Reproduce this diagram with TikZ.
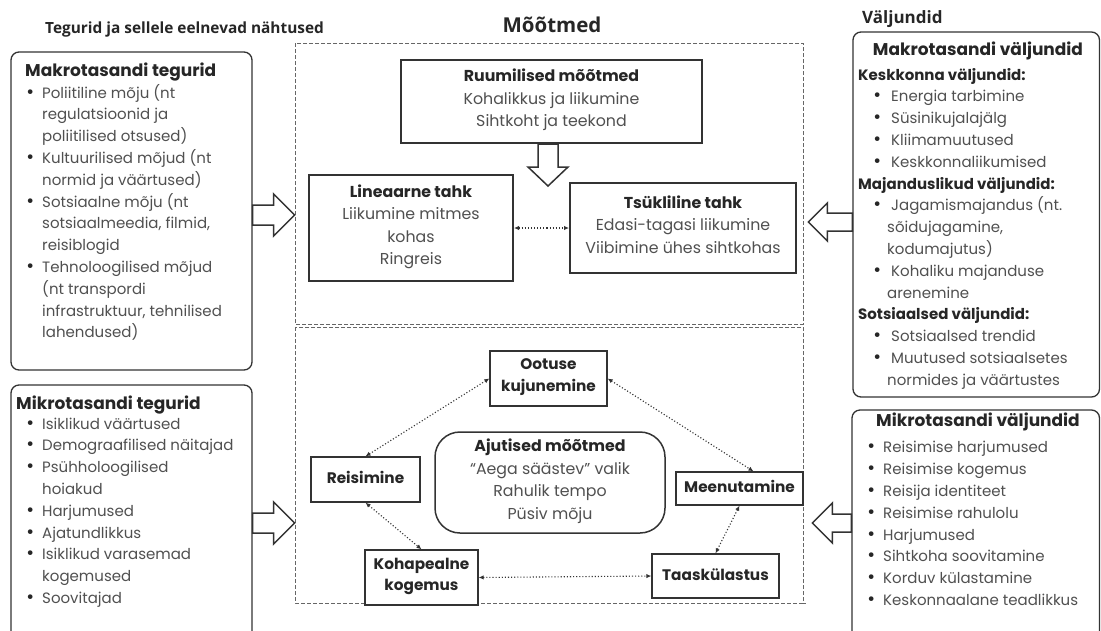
\documentclass[tikz,border=0pt]{standalone}
\usepackage{fontspec}
\setmainfont{Poppins}
\newfontfamily\osans{Open Sans}
\usetikzlibrary{arrows.meta,calc}
\definecolor{bodytxt}{HTML}{505050}
\definecolor{headtxt}{HTML}{262626}
\definecolor{linec}{HTML}{333333}
\definecolor{dashc}{HTML}{666666}
\newcommand\listfont{\fontsize{15}{21.8}\selectfont}
\newcommand\headfont{\fontsize{17}{21.8}\selectfont\bfseries}
\newcommand\ctrfont{\fontsize{15.8}{22.5}\selectfont}
\newcommand\smfont{\fontsize{15.3}{21.5}\selectfont\bfseries}
\newcommand\bul[1][12pt]{\makebox[0pt][c]{\textcolor{headtxt}{\fontsize{19}{0}\selectfont •}}\hspace*{#1}}
\newcommand\ind[1][12pt]{\hspace*{#1}}
\newcommand\subh[1]{\textbf{\textcolor{headtxt}{#1}}}
\begin{document}
\begin{tikzpicture}[x=1pt,y=-1pt,
  sidebox/.style={draw=linec, line width=1.3pt, rounded corners=8pt, fill=white, inner sep=0pt},
  mainbox/.style={draw=linec, line width=2pt, fill=white, align=center, inner sep=0pt,
    font=\ctrfont, text=bodytxt, execute at begin node=\strut, execute at end node=\strut},
  smallbox/.style={draw=linec, line width=1.3pt, fill=white, align=center, inner sep=0pt,
    font=\smfont, text=headtxt, execute at begin node=\strut, execute at end node=\strut},
  roundbox/.style={mainbox, line width=1.5pt, rounded corners=25pt},
  listtxt/.style={anchor=north west, inner sep=0pt, align=left, font=\listfont, text=bodytxt},
  heading/.style={inner sep=0pt, anchor=base, font=\headfont, text=headtxt},
  label/.style={inner sep=0pt, anchor=base, text=headtxt},
  blockarrow/.style={draw=linec, line width=1.5pt, fill=white, line join=miter},
  dotarrow/.style={draw=linec, line width=1.1pt, dotted, {Latex[length=5pt,width=4.5pt]}-{Latex[length=5pt,width=4.5pt]}},
  dashbox/.style={draw=dashc, line width=1pt, dash pattern=on 4pt off 2pt}
]
\clip (0,0) rectangle (1101,630);
\fill[white] (0,0) rectangle (1101,630);

% section labels
\node[label, anchor=base west, font={\fontsize{15.4}{18}\selectfont\osans\bfseries}] (lblleft) at (45,33) {Tegurid ja sellele eelnevad nähtused};
\node[label, font={\fontsize{20.5}{24}\selectfont\osans\bfseries}] (lblmid) at (552,32) {Mõõtmed};
\node[label, anchor=base west, font={\fontsize{17}{20}\selectfont\osans\bfseries}] (lblright) at (862,23.5) {Väljundid};

% dashed frames
\draw[dashbox] (295,43) rectangle (803,324);
\draw[dashbox] (295,327) rectangle (803,603);
\draw[dashbox] (803,603) -- (806,603);

% left boxes
\node[sidebox, minimum width=241pt, minimum height=318pt] (mt) at (131.5,211) {};
\node[heading, anchor=base west] (mthead) at (25,76) {Makrotasandi tegurid};
\node[listtxt] (mtlist) at (30,82.7) {\strut\bul Poliitiline mõju (nt\\
\ind regulatsioonid ja\\
\ind poliitilised otsused)\\
\bul Kultuurilised mõjud (nt\\
\ind normid ja väärtused)\\
\bul Sotsiaalne mõju (nt\\
\ind sotsiaalmeedia, filmid,\\
\ind reisiblogid\\
\bul Tehnoloogilised mõjud\\
\ind (nt transpordi\\
\ind infrastruktuur, tehnilised\\
\ind lahendused)};

\node[sidebox, minimum width=241pt, minimum height=275pt] (mb) at (131.5,522.5) {};
\node[heading, anchor=base west] (mbhead) at (16,409) {Mikrotasandi tegurid};
\node[listtxt] (mblist) at (30,413.7) {\strut\bul Isiklikud väärtused\\
\bul Demograafilised näitajad\\
\bul Psühholoogilised\\
\ind hoiakud\\
\bul Harjumused\\
\bul Ajatundlikkus\\
\bul Isiklikud varasemad\\
\ind kogemused\\
\bul Soovitajad};

% right boxes
\node[sidebox, minimum width=246.5pt, minimum height=365pt] (rt) at (976.25,214.5) {};
\node[heading] (rthead) at (978,55) {Makrotasandi väljundid};
\node[listtxt] (rtlist) at (858,64.7) {\strut\subh{Keskkonna väljundid:}\\
\ind[19pt]\bul[10pt] Energia tarbimine\\
\ind[19pt]\bul[10pt] Süsinikujalajälg\\
\ind[19pt]\bul[10pt] Kliimamuutused\\
\ind[19pt]\bul[10pt] Keskkonnaliikumised\\
\subh{Majanduslikud väljundid:}\\
\ind[19pt]\bul[10pt] Jagamismajandus (nt.\\
\ind[29pt]sõidujagamine,\\
\ind[29pt]kodumajutus)\\
\ind[19pt]\bul[10pt] Kohaliku majanduse\\
\ind[29pt]arenemine\\
\subh{Sotsiaalsed väljundid:}\\
\ind[19pt]\bul[10pt] Sotsiaalsed trendid\\
\ind[19pt]\bul[10pt] Muutused sotsiaalsetes\\
\ind[29pt]normides ja väärtustes};

\node[sidebox, minimum width=247.5pt, minimum height=250pt] (rb) at (975.75,535) {};
\node[heading] (rbhead) at (978,426.5) {Mikrotasandi väljundid};
\node[listtxt] (rblist) at (871,437.5) {\strut\bul Reisimise harjumused\\
\bul Reisimise kogemus\\
\bul Reisija identiteet\\
\bul Reisimise rahulolu\\
\bul Harjumused\\
\bul Sihtkoha soovitamine\\
\bul Korduv külastamine\\
\bul Keskonnaalane teadlikkus};

% spatial dimensions
\node[mainbox, minimum width=301pt, minimum height=83pt] (ruum) at (551.5,101.5)
  {\textbf{\textcolor{headtxt}{Ruumilised mõõtmed}}\\Kohalikkus ja liikumine\\Sihtkoht ja teekond};
\node[mainbox, minimum width=204pt, minimum height=106pt] (lin) at (411,228)
  {\textbf{\textcolor{headtxt}{Lineaarne tahk}}\\Liikumine mitmes\\kohas\\Ringreis};
\node[mainbox, minimum width=226pt, minimum height=90pt] (tsyk) at (683,228)
  {\textbf{\textcolor{headtxt}{Tsükliline tahk}}\\Edasi-tagasi liikumine\\Viibimine ühes sihtkohas};

% temporal dimensions
\node[smallbox, minimum width=117pt, minimum height=55pt] (oot) at (548.5,378.5) {Ootuse\\kujunemine};
\node[smallbox, minimum width=109pt, minimum height=45pt] (reis) at (365.5,479.5) {Reisimine};
\node[smallbox, minimum width=127pt, minimum height=33pt] (meen) at (739.5,488.5) {Meenutamine};
\node[smallbox, minimum width=113pt, minimum height=55pt] (koh) at (421.5,577.5) {Kohapealne\\kogemus};
\node[smallbox, minimum width=127pt, minimum height=44pt] (taas) at (715.5,576) {Taaskülastus};
\node[roundbox, minimum width=230pt, minimum height=101pt] (ajut) at (550,482.5)
  {\textbf{\textcolor{headtxt}{Ajutised mõõtmed}}\\“Aega säästev” valik\\Rahulik tempo\\Püsiv mõju};

% dotted connectors
\draw[dotarrow] (lin.east) -- (tsyk.west);
\draw[dotarrow] (reis.north) -- (oot.west);
\draw[dotarrow] (oot.east) -- ([xshift=14pt]meen.north);
\draw[dotarrow] (reis.south) -- (koh.north);
\draw[dotarrow] (meen.south) -- (taas.north);
\draw[dotarrow] (koh.east) -- (taas.west);

% block arrows
\draw[blockarrow] ([xshift=-3.5pt]ruum.south) ++(-10,0) -- ++(0,23) -- ++(-10,0) -- ++(20,19) -- ++(20,-19) -- ++(-10,0) -- ++(0,-23) -- cycle;
\draw[blockarrow] (mt.east |- 0,205) -- ++(21,0) -- ++(0,-11) -- ++(21,21) -- ++(-21,21) -- ++(0,-11) -- ++(-21,0) -- cycle;
\draw[blockarrow] (mb.east |- 0,513) -- ++(21,0) -- ++(0,-11) -- ++(21,21) -- ++(-21,21) -- ++(0,-11) -- ++(-21,0) -- cycle;
\draw[blockarrow] (rt.west |- 0,213) -- ++(-25,0) -- ++(0,-10) -- ++(-19,19) -- ++(19,19) -- ++(0,-10) -- ++(25,0) -- cycle;
\draw[blockarrow] (rb.west |- 0,514) -- ++(-19,0) -- ++(0,-11) -- ++(-20,20) -- ++(20,20) -- ++(0,-11) -- ++(19,0) -- cycle;
\end{tikzpicture}
\end{document}
